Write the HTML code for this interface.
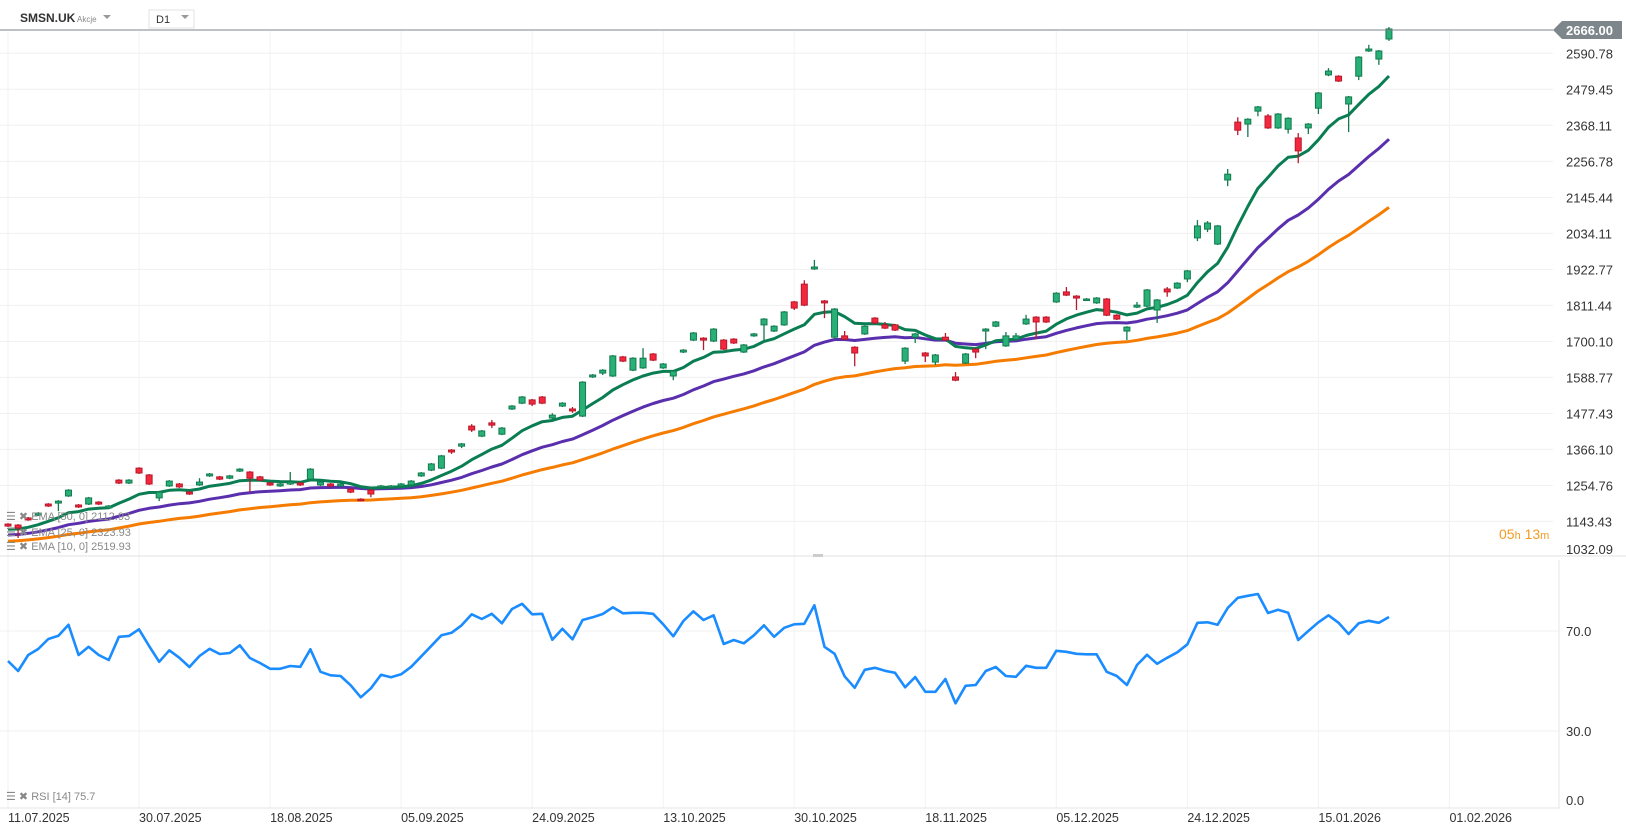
<!DOCTYPE html>
<html><head><meta charset="utf-8"><style>
html,body{margin:0;padding:0;background:#fff;width:1626px;height:831px;overflow:hidden;font-family:"Liberation Sans",sans-serif}
svg text{font-family:"Liberation Sans",sans-serif}
</style></head><body>
<svg id="chart" width="1626" height="831" xmlns="http://www.w3.org/2000/svg">
<g id="grid"></g>
<g id="ema"></g>
<g id="candles"></g>
<g id="rsi"></g>
<g id="axes"></g>
<g>
  <text x="20" y="22" font-size="12" font-weight="bold" fill="#333">SMSN.UK</text>
  <text x="77" y="22" font-size="8" fill="#888">Akcje</text>
  <path d="M103 15 L111 15 L107 19 Z" fill="#999"/>
  <rect x="149" y="10" width="45" height="18" fill="#fff" stroke="#e3e3e3"/>
  <text x="156" y="23" font-size="11" fill="#333">D1</text>
  <path d="M181 15 L189 15 L185 19 Z" fill="#999"/>
</g>
<g font-size="11" fill="#888">
  <text x="6" y="520">☰ ✖ EMA  [50,  0]  2112.93</text>
  <text x="6" y="536">☰ ✖ EMA  [25,  0]  2323.93</text>
  <text x="6" y="550">☰ ✖ EMA  [10,  0]  2519.93</text>
  <text x="6" y="800">☰ ✖ RSI  [14]  75.7</text>
</g>
<text x="1499" y="539" font-size="14" fill="#f59b23">05<tspan font-size="11">h</tspan> 13<tspan font-size="11">m</tspan></text>
</svg>
<script>
const opens=[1135,1132,1154,1163,1197,1200,1222,1194,1197,1203,1185,1271,1262,1308,1287,1216,1253,1259,1234,1256,1284,1281,1277,1299,1296,1281,1262,1253,1259,1262,1274,1256,1259,1253,1243,1212,1240,1250,1250,1253,1256,1284,1302,1308,1364,1376,1438,1407,1448,1413,1491,1509,1519,1528,1463,1500,1491,1469,1590,1602,1593,1652,1611,1618,1661,1618,1593,1667,1704,1710,1701,1704,1707,1667,1717,1751,1732,1751,1822,1877,1924,1825,1713,1717,1682,1723,1772,1751,1751,1639,1713,1664,1636,1713,1590,1633,1676,1732,1747,1686,1707,1754,1775,1775,1822,1853,1840,1828,1819,1831,1781,1732,1806,1809,1797,1862,1865,1893,2020,2047,2001,2199,2378,2372,2412,2397,2360,2356,2329,2360,2421,2524,2520,2434,2520,2598,2573,2635];
const highs=[1138,1135,1157,1172,1200,1209,1243,1197,1219,1206,1194,1274,1274,1311,1290,1237,1271,1262,1237,1277,1293,1284,1287,1308,1299,1284,1265,1262,1296,1265,1308,1268,1262,1262,1246,1215,1243,1256,1256,1262,1271,1296,1324,1349,1367,1386,1444,1426,1457,1435,1503,1531,1522,1531,1478,1512,1497,1577,1599,1614,1658,1655,1651,1679,1664,1633,1611,1676,1729,1713,1741,1707,1710,1692,1726,1772,1750,1794,1825,1889,1952,1828,1803,1732,1685,1750,1775,1760,1754,1682,1726,1667,1661,1726,1605,1664,1679,1741,1763,1729,1726,1782,1778,1778,1852,1868,1843,1834,1837,1834,1784,1747,1822,1862,1831,1868,1883,1921,2075,2072,2060,2233,2393,2390,2428,2403,2406,2393,2344,2375,2471,2545,2523,2459,2582,2617,2601,2672];
const lows=[1126,1092,1145,1160,1188,1175,1219,1185,1194,1194,1182,1259,1259,1290,1256,1206,1250,1247,1225,1253,1281,1271,1274,1296,1234,1268,1253,1250,1256,1253,1271,1253,1250,1250,1231,1206,1218,1247,1247,1250,1253,1281,1299,1305,1352,1370,1420,1404,1432,1410,1488,1506,1500,1506,1460,1497,1479,1466,1587,1596,1590,1636,1608,1615,1639,1615,1580,1664,1701,1673,1698,1673,1692,1664,1714,1701,1729,1748,1797,1809,1921,1772,1707,1704,1623,1720,1754,1738,1732,1630,1695,1636,1627,1701,1577,1630,1648,1676,1744,1683,1704,1751,1707,1757,1819,1840,1797,1825,1816,1778,1766,1704,1803,1806,1757,1838,1862,1883,2010,2038,1998,2180,2338,2332,2396,2357,2357,2343,2251,2341,2403,2520,2502,2347,2508,2595,2555,2629];
const closes=[1129,1123,1148,1169,1191,1206,1240,1188,1216,1197,1191,1262,1271,1293,1259,1234,1268,1250,1228,1265,1290,1274,1284,1305,1277,1271,1256,1259,1265,1256,1305,1265,1253,1259,1234,1209,1228,1253,1253,1259,1268,1293,1321,1346,1358,1383,1426,1423,1441,1432,1500,1528,1506,1509,1472,1509,1485,1574,1596,1611,1655,1639,1648,1648,1642,1630,1608,1673,1726,1704,1738,1676,1695,1689,1723,1769,1747,1791,1803,1812,1930,1819,1800,1707,1664,1747,1757,1741,1735,1679,1723,1655,1658,1704,1580,1661,1667,1738,1760,1717,1717,1769,1760,1760,1849,1843,1834,1831,1834,1781,1769,1744,1812,1859,1828,1853,1880,1918,2057,2066,2057,2217,2353,2387,2425,2360,2403,2390,2289,2372,2468,2536,2505,2456,2579,2604,2598,2666];
const rsiValues=[58,54,60.4,62.8,66.8,68.1,72.5,60.4,63.7,60.4,58.4,67.7,68,70.7,64,57.7,62.3,59.3,55.6,60,62.9,60.8,61.2,64.3,59.2,57.2,54.9,54.9,56,55.7,62.7,53.7,52.3,52,48.3,43.5,47.1,52.5,51.5,52.7,55.7,59.9,64.1,68.3,69.3,72.3,76.7,74.8,76.9,73.1,78.8,80.9,76.7,76.9,66.5,70.9,66.7,74.4,75.5,76.8,79.5,77.1,77.3,77.3,76.9,72.7,67.9,74,77.9,74.4,76.3,64.8,66.4,65.1,68.3,72.3,67.7,71.3,72.7,72.9,80.3,63.7,60.9,51.9,47.3,54.5,55.3,54.1,53.3,47.5,51.6,45.7,45.7,50.8,41.1,48.1,48.4,54,55.6,52,51.7,56.1,55.3,55.3,62.1,61.7,60.9,60.7,60.7,53.7,52,48.4,56.4,60.5,56.9,59.3,61.5,64.7,73.3,73.5,72.5,79.2,83.3,84.1,84.8,77.2,78.5,77.3,66.4,70,73.5,76.3,73.3,68.8,73.1,74.1,73.3,75.6];
const emaPeriods=[50,25,10];
const emaSeeds=[1080,1099,1117];
const priceTicks=[2590.78,2479.45,2368.11,2256.78,2145.44,2034.11,1922.77,1811.44,1700.10,1588.77,1477.43,1366.10,1254.76,1143.43,1032.09];
const rsiTicks=[70,30,0];
const dateLabels=["11.07.2025","30.07.2025","18.08.2025","05.09.2025","24.09.2025","13.10.2025","30.10.2025","18.11.2025","05.12.2025","24.12.2025","15.01.2026","01.02.2026"];
const dateIndex=[0,13,26,39,52,65,78,91,104,117,130,143];
const lastPrice=2666.00;

const NS="http://www.w3.org/2000/svg";
function mk(tag,attrs,parent){const e=document.createElementNS(NS,tag);for(const k in attrs)e.setAttribute(k,attrs[k]);parent.appendChild(e);return e;}
const xOf=i=>8+i*10.08;
const yP=p=>53.3+(2590.78-p)*0.3234;
const yR=v=>631+(70-v)*2.5;
const grid=document.getElementById('grid'),axes=document.getElementById('axes');

priceTicks.forEach(t=>{
  const y=yP(t);
  if(y<556){const l=mk('line',{x1:0,x2:1553,y1:y,y2:y,stroke:'#f0f0f0','stroke-width':1},grid);
  
  }
  const tx=mk('text',{x:1566,y:Math.min(y,549)+5,'font-size':13,fill:'#333'},axes);
  tx.textContent=t.toFixed(2);
  
  
});
rsiTicks.forEach(t=>{
  const y=yR(t);
  if(t>0){const l=mk('line',{x1:0,x2:1559,y1:y,y2:y,stroke:'#f0f0f0','stroke-width':1},grid);
  
  }
  const tx=mk('text',{x:1566,y:Math.min(y,800)+5,'font-size':13,fill:'#333'},axes);
  tx.textContent=t.toFixed(1);
  
  
});
dateLabels.forEach((d,k)=>{
  const x=xOf(dateIndex[k]);
  const l=mk('line',{x1:x,x2:x,y1:31,y2:808,stroke:'#f2f2f2','stroke-width':1},grid);
  
  
  const tx=mk('text',{x:x,y:822,'font-size':12.5,fill:'#333'},axes);
  tx.textContent=d;
  
  
});
let s=mk('line',{x1:0,x2:1626,y1:556,y2:556,stroke:'#e0e0e0','stroke-width':1},axes);


s=mk('rect',{x:813,y:554,width:10,height:3,fill:'#ccc'},axes);


s=mk('line',{x1:0,x2:1560,y1:808,y2:808,stroke:'#e6e6e6','stroke-width':1},axes);


s=mk('line',{x1:1559,x2:1559,y1:560,y2:808,stroke:'#e6e6e6','stroke-width':1},axes);


const yl=yP(lastPrice);
s=mk('line',{x1:0,x2:1553,y1:yl+1,y2:yl+1,stroke:'#7d868b','stroke-width':1},axes);


s=mk('path',{d:`M1553 ${yl+1} L1562 ${yl-8} L1622 ${yl-8} L1622 ${yl+10} L1562 ${yl+10} Z`,fill:'#7d868b'},axes);


s=mk('text',{x:1566,y:yl+6,'font-size':13,'font-weight':'bold',fill:'#fff'},axes);
s.textContent=lastPrice.toFixed(2);



const emaG=document.getElementById('ema');
const emaColors=['#f57c00','#5a2fae','#0a7d53'];
emaPeriods.forEach((n,k)=>{
  const a=2/(n+1);let e=emaSeeds[k];const pts=[];
  closes.forEach((c,i)=>{e=c*a+e*(1-a);pts.push(xOf(i).toFixed(1)+','+yP(e).toFixed(1));});
  const pl=mk('polyline',{points:pts.join(' '),fill:'none',stroke:emaColors[k],'stroke-width':3,'stroke-linejoin':'round'},emaG);
  
  
});
const cg=document.getElementById('candles');
closes.forEach((c,i)=>{
  const o=opens[i],up=c>=o,x=xOf(i);
  const fill=up?'#28b077':'#f3283f',st=up?'#137a4f':'#b8182b';
  const g=mk('g',{},cg);
  
  
  mk('line',{x1:x,x2:x,y1:yP(highs[i]),y2:yP(lows[i]),stroke:st,'stroke-width':1.3},g);
  const t=yP(Math.max(o,c)),b=yP(Math.min(o,c));
  mk('rect',{x:x-3,y:t,width:6,height:Math.max(b-t,1.5),fill:fill,stroke:st,'stroke-width':1},g);
});
const rg=document.getElementById('rsi');
const rp=rsiValues.map((v,i)=>xOf(i).toFixed(1)+','+yR(v).toFixed(1)).join(' ');
const rl=mk('polyline',{points:rp,fill:'none',stroke:'#1a8cff','stroke-width':2.6,'stroke-linejoin':'round'},rg);


</script>
</body></html>
